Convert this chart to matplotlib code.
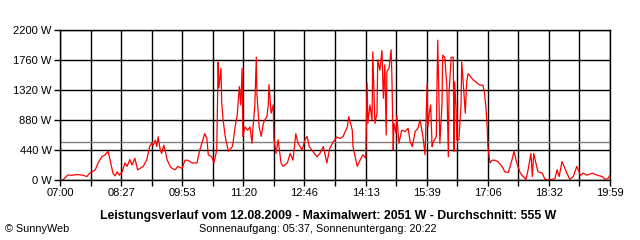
import numpy as np
import matplotlib
matplotlib.use("Agg")
import matplotlib.pyplot as plt

plt.rcParams['font.family'] = ['Liberation Sans', 'DejaVu Sans']

# Minuten nach 07:00 und Leistung in W
minuten = [4, 11, 17, 24, 33, 38, 42, 50, 54, 59, 64, 68, 71, 75, 78, 81, 84, 88, 92, 95,
           99, 102, 106, 110, 118, 123, 127, 130, 132, 135, 137, 139, 142, 144, 147, 152, 156, 159, 163, 167,
           173, 177, 181, 187, 194, 198, 201, 205, 208, 210, 215, 218, 222, 224, 225, 228, 229, 231, 234, 237,
           239, 244, 245, 248, 251, 254, 256, 258, 259, 262, 266, 269, 272, 273, 276, 278, 279, 282, 285, 288,
           290, 293, 295, 296, 299, 302, 303, 306, 309, 313, 316, 322, 326, 330, 334, 337, 343, 347, 350, 353,
           358, 364, 368, 373, 375, 378, 382, 387, 392, 397, 401, 407, 409, 414, 415, 418, 421, 425, 429, 433,
           435, 436, 439, 442, 443, 446, 449, 450, 453, 456, 458, 460, 462, 463, 466, 469, 470, 472, 473, 476,
           477, 480, 484, 489, 493, 496, 499, 503, 507, 510, 514, 517, 520, 521, 523, 525, 527, 528, 533, 534,
           535, 538, 541, 542, 545, 548, 550, 551, 554, 557, 558, 559, 561, 562, 565, 568, 569, 571, 574, 576,
           578, 582, 585, 591, 595, 599, 601, 603, 605, 606, 609, 612, 616, 620, 626, 630, 635, 640, 643, 647,
           652, 656, 660, 663, 667, 669, 671, 674, 677, 683, 687, 691, 697, 701, 704, 707, 711, 714, 718, 722,
           727, 732, 734, 737, 741, 746, 754, 761, 768, 772, 776, 779]
leistung = [0, 73, 70, 80, 70, 50, 100, 150, 250, 340, 370, 420, 290, 100, 60, 120, 70, 120, 250, 200,
            300, 220, 320, 150, 200, 300, 490, 545, 510, 585, 490, 635, 440, 390, 510, 290, 200, 170, 150, 200,
            170, 290, 290, 250, 250, 440, 540, 680, 610, 370, 340, 250, 440, 1730, 1350, 1640, 1140, 880, 640, 490,
            420, 490, 540, 780, 950, 1370, 1100, 1640, 640, 780, 730, 780, 540, 730, 1100, 1800, 1250, 780, 640, 830,
            880, 930, 1100, 1400, 980, 1100, 610, 390, 590, 250, 200, 250, 390, 290, 680, 540, 440, 590, 640, 490,
            420, 340, 390, 490, 390, 250, 460, 560, 630, 610, 640, 780, 930, 730, 490, 340, 200, 290, 370, 320,
            1420, 830, 1100, 880, 1880, 830, 980, 1760, 1610, 1900, 1200, 1690, 660, 1590, 1640, 1910, 1560, 440, 830, 680,
            950, 540, 730, 710, 760, 560, 490, 710, 760, 880, 640, 370, 1420, 780, 980, 1100, 490, 540, 640, 1420,
            2051, 540, 1100, 1830, 1800, 1370, 340, 1270, 1800, 1800, 420, 1440, 1030, 590, 590, 1100, 1730, 1440, 980, 1440,
            1560, 1510, 1470, 1420, 1390, 1390, 1300, 1100, 780, 490, 250, 290, 290, 270, 200, 120, 110, 290, 420, 250,
            100, 50, 10, 150, 390, 50, 390, 250, 120, 100, 10, 0, 10, 20, 150, 50, 270, 200, 100, 10,
            50, 200, 150, 70, 100, 70, 100, 70, 50, 10, 20, 70]
durchschnitt = 555
y_ticks = [0, 440, 880, 1320, 1760, 2200]
x_labels = ["07:00", "08:27", "09:53", "11:20", "12:46", "14:13", "15:39", "17:06", "18:32", "19:59"]
ende = 779

fig = plt.figure(figsize=(6.4, 2.4), dpi=100)
ax = fig.add_axes([60/640, 60/240, 550/640, 150/240])

# Gitter
x_grid = np.linspace(0, ende, 19)
for xg in x_grid:
    ax.axvline(xg, color="black", lw=1)
for yg in y_ticks:
    ax.axhline(yg, color="black", lw=1)

ax.axhline(durchschnitt, color="#808080", lw=1)
ax.plot(minuten, leistung, color="red", lw=0.9)

ax.set_xlim(0, ende)
ax.set_ylim(0, 2200)
ax.set_xticks(x_grid)
ax.set_xticklabels([x_labels[i // 2] if i % 2 == 0 else "" for i in range(19)])
ax.set_yticks(y_ticks)
ax.set_yticklabels([f"{v} W" for v in y_ticks])
ax.tick_params(length=4, width=1, labelsize=8, pad=2, color="black")
for s in ax.spines.values():
    s.set_linewidth(1)

fig.text(328/640, 1 - 216/240, "Leistungsverlauf vom 12.08.2009 - Maximalwert: 2051 W - Durchschnitt: 555 W",
         ha="center", va="center", fontsize=8.8, fontweight="bold")
fig.text(318/640, 1 - 229/240, "Sonnenaufgang: 05:37, Sonnenuntergang: 20:22",
         ha="center", va="center", fontsize=7.8)
fig.text(5/640, 1 - 229/240, "© SunnyWeb", ha="left", va="center", fontsize=7.8)

fig.savefig("out.png", dpi=100)
